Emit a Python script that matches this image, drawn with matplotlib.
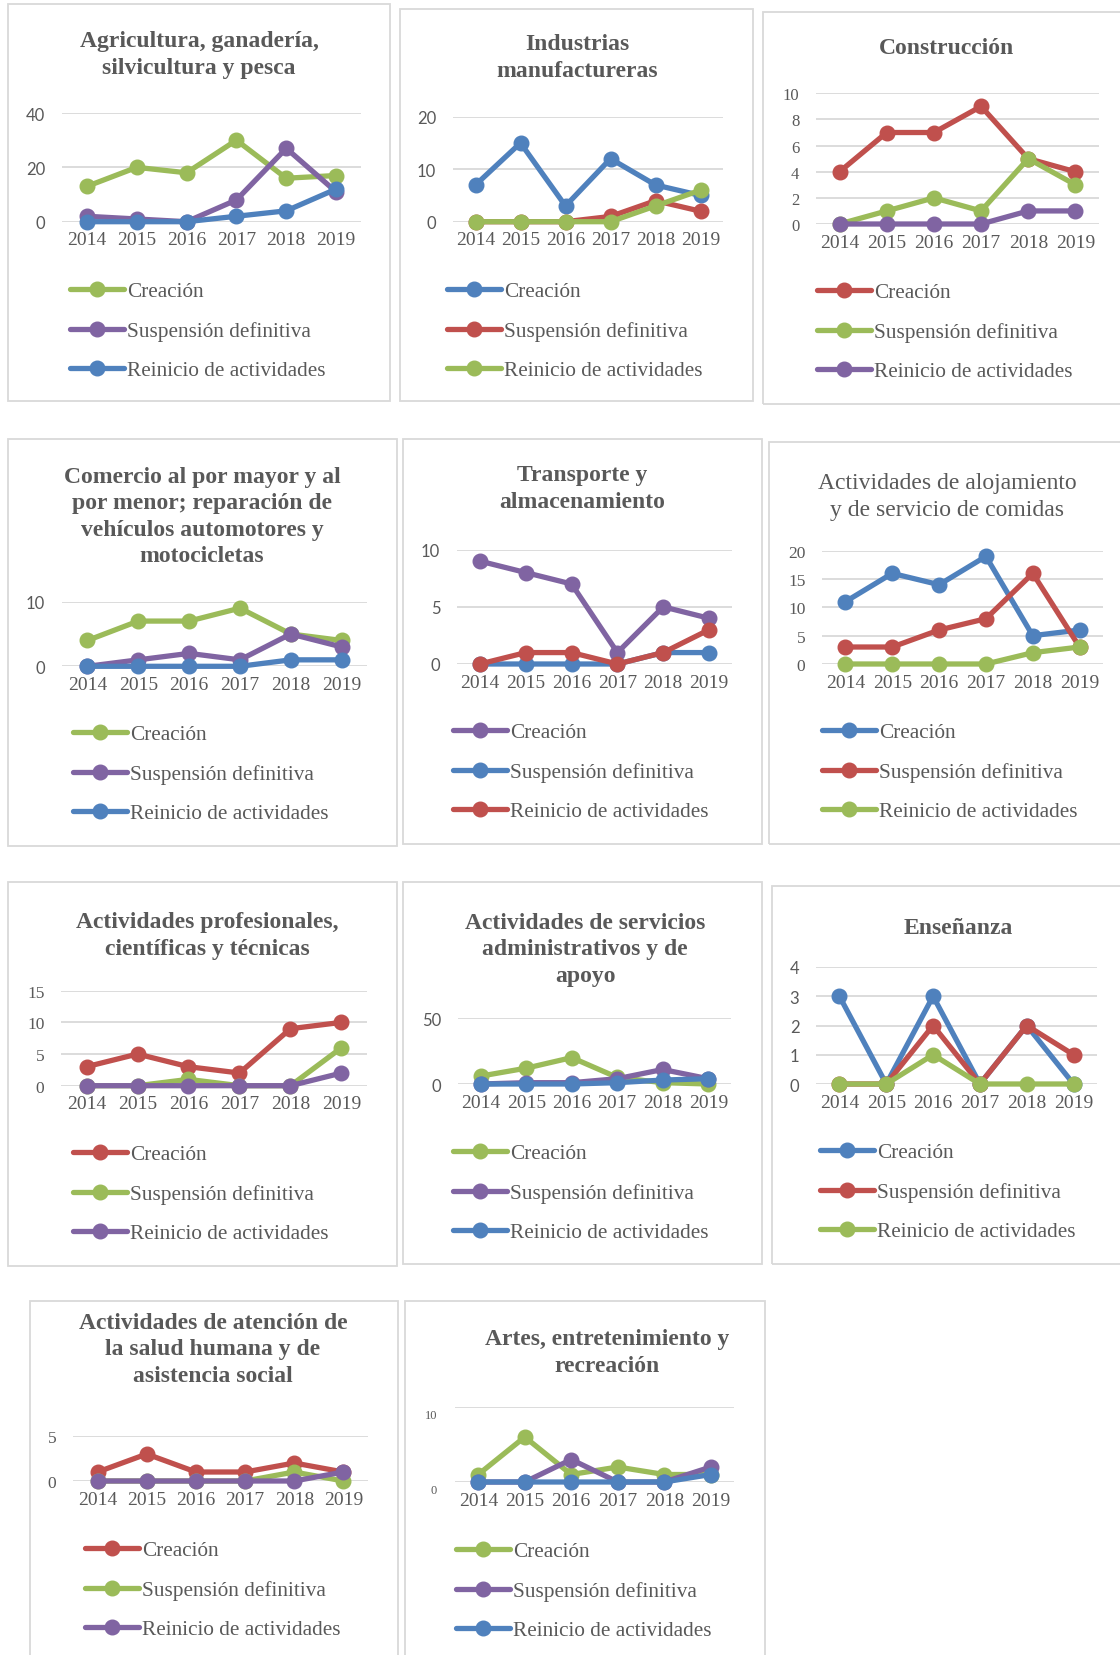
import numpy as np
import matplotlib.pyplot as plt
from matplotlib.patches import Rectangle
from matplotlib.transforms import ScaledTranslation

W, H = 1120, 1656

anios = ['2014', '2015', '2016', '2017', '2018', '2019']
series = ['Creación', 'Suspensión definitiva', 'Reinicio de actividades']

# valores: creacion, suspension definitiva, reinicio
agro_creacion = [13, 20, 18, 30, 16, 17]
agro_suspension = [2, 1, 0, 8, 27, 11]
agro_reinicio = [0, 0, 0, 2, 4, 12]

manuf_creacion = [7, 15, 3, 12, 7, 5]
manuf_suspension = [0, 0, 0, 1, 4, 2]
manuf_reinicio = [0, 0, 0, 0, 3, 6]

constr_creacion = [4, 7, 7, 9, 5, 4]
constr_suspension = [0, 1, 2, 1, 5, 3]
constr_reinicio = [0, 0, 0, 0, 1, 1]

comercio_creacion = [4, 7, 7, 9, 5, 4]
comercio_suspension = [0, 1, 2, 1, 5, 3]
comercio_reinicio = [0, 0, 0, 0, 1, 1]

transp_creacion = [9, 8, 7, 1, 5, 4]
transp_suspension = [0, 0, 0, 0, 1, 1]
transp_reinicio = [0, 1, 1, 0, 1, 3]

aloj_creacion = [11, 16, 14, 19, 5, 6]
aloj_suspension = [3, 3, 6, 8, 16, 3]
aloj_reinicio = [0, 0, 0, 0, 2, 3]

prof_creacion = [3, 5, 3, 2, 9, 10]
prof_suspension = [0, 0, 1, 0, 0, 6]
prof_reinicio = [0, 0, 0, 0, 0, 2]

admin_creacion = [6, 12, 20, 5, 1, 0]
admin_suspension = [0, 1, 1, 4, 11, 4]
admin_reinicio = [0, 0, 0, 1, 3, 4]

ensen_creacion = [3, 0, 3, 0, 2, 0]
ensen_suspension = [0, 0, 2, 0, 2, 1]
ensen_reinicio = [0, 0, 1, 0, 0, 0]

salud_creacion = [1, 3, 1, 1, 2, 1]
salud_suspension = [0, 0, 0, 0, 1, 0]
salud_reinicio = [0, 0, 0, 0, 0, 1]

artes_creacion = [1, 6, 1, 2, 1, 1]
artes_suspension = [0, 0, 3, 0, 0, 2]
artes_reinicio = [0, 0, 0, 0, 0, 1]

azul = '#4F81BD'
rojo = '#C0504D'
verde = '#9BBB59'
morado = '#8064A2'
gris_texto = '#595959'
gris_linea = '#D9D9D9'

serif = 'Liberation Serif'
sans = 'Lato'

def fx(px):
    return px / W

def fy(py):
    return 1 - py / H

fig = plt.figure(figsize=(W / 100, H / 100), dpi=100)

def panel(titulo, datos, colores, yticks, caja, area, tit_xy, ley_xy,
          negrita=True, yfuente=sans, ytam=12, yoff=0):
    x0, y0, x1, y1 = caja
    fig.add_artist(Rectangle((fx(x0), fy(y1)), fx(x1 - x0), (y1 - y0) / H,
                             transform=fig.transFigure, fill=False,
                             edgecolor=gris_linea, lw=1.3))
    ax0, ytop, ax1, ybot = area
    ax = fig.add_axes([fx(ax0), fy(ybot), fx(ax1 - ax0), (ybot - ytop) / H])
    x = np.arange(len(anios))
    for vals, col, nom in zip(datos, colores, series):
        ax.plot(x, vals, color=col, lw=3.8, marker='o', ms=10.5,
                label=nom, clip_on=False, solid_capstyle='round')
    ax.set_xlim(-0.5, len(anios) - 0.5)
    ax.set_ylim(yticks[0], yticks[-1])
    ax.set_yticks(yticks)
    ax.set_xticks(x)
    ax.set_xticklabels(anios, fontfamily=serif, fontsize=14, color=gris_texto)
    if yoff:
        # etiquetas desplazadas hacia abajo como en el original
        ax.set_yticklabels([])
        desp = ScaledTranslation(-18 / 100, -yoff / 100, fig.dpi_scale_trans)
        for t in yticks:
            ax.text(0, t, str(t), transform=ax.get_yaxis_transform() + desp,
                    ha='right', va='center', fontfamily=yfuente, fontsize=ytam,
                    color=gris_texto)
    else:
        ax.set_yticklabels([str(t) for t in yticks], fontfamily=yfuente,
                           fontsize=ytam, color=gris_texto)
    ax.tick_params(axis='both', length=0)
    ax.tick_params(axis='x', pad=7)
    ax.tick_params(axis='y', pad=12)
    ax.grid(axis='y', color=gris_linea, lw=1.3)
    ax.set_axisbelow(True)
    for s in ax.spines.values():
        s.set_visible(False)
    fig.text(fx(tit_xy[0]), fy(tit_xy[1]), titulo, ha='center', va='center',
             fontfamily=serif, fontsize=17,
             fontweight='bold' if negrita else 'normal',
             color=gris_texto, linespacing=1.33)
    ax.legend(loc='center left', bbox_to_anchor=(fx(ley_xy[0]), fy(ley_xy[1])),
              bbox_transform=fig.transFigure, frameon=False, borderpad=0,
              borderaxespad=0, handlelength=2.55, handletextpad=0.12,
              labelspacing=0.92, prop={'family': serif, 'size': 15.3},
              labelcolor=gris_texto)
    return ax

panel('Agricultura, ganadería,\nsilvicultura y pesca',
      [agro_creacion, agro_suspension, agro_reinicio], [verde, morado, azul],
      [0, 20, 40], (8, 5, 390, 402), (62, 114, 361, 222.7), (199, 55), (70, 332))

panel('Industrias\nmanufactureras',
      [manuf_creacion, manuf_suspension, manuf_reinicio], [azul, rojo, verde],
      [0, 10, 20], (400, 10, 753, 402), (453, 117.7, 723, 222.7), (577, 58), (447, 332))

panel('Construcción',
      [constr_creacion, constr_suspension, constr_reinicio], [rojo, verde, morado],
      [0, 2, 4, 6, 8, 10], (763, 13, 1130, 405), (816, 94.3, 1099, 225), (947, 48),
      (817, 333), yfuente=serif, ytam=12)

panel('Comercio al por mayor y al\npor menor; reparación de\nvehículos automotores y\nmotocicletas',
      [comercio_creacion, comercio_suspension, comercio_reinicio], [verde, morado, azul],
      [0, 10], (8, 440, 397, 847), (62, 602.7, 367, 667.3), (202, 517), (73, 775))

panel('Transporte y\nalmacenamiento',
      [transp_creacion, transp_suspension, transp_reinicio], [morado, azul, rojo],
      [0, 5, 10], (403, 440, 762, 845), (457, 550.7, 732, 665), (582, 489), (453, 773))

panel('Actividades de alojamiento\ny de servicio de comidas',
      [aloj_creacion, aloj_suspension, aloj_reinicio], [azul, rojo, verde],
      [0, 5, 10, 15, 20], (769, 443, 1130, 845), (822, 551.7, 1103, 665), (947, 497),
      (822, 773), negrita=False, yfuente=serif, ytam=12.5)

panel('Actividades profesionales,\ncientíficas y técnicas',
      [prof_creacion, prof_suspension, prof_reinicio], [rojo, verde, morado],
      [0, 5, 10, 15], (8, 883, 397, 1267), (61, 991.7, 367, 1086.7), (207, 936),
      (73, 1195), yfuente=serif, ytam=12.5)

panel('Actividades de servicios\nadministrativos y de\napoyo',
      [admin_creacion, admin_suspension, admin_reinicio], [verde, morado, azul],
      [0, 50], (403, 883, 762, 1265), (458, 1019, 731, 1085), (585, 950), (453, 1194))

panel('Enseñanza',
      [ensen_creacion, ensen_suspension, ensen_reinicio], [azul, rojo, verde],
      [0, 1, 2, 3, 4], (772, 887, 1130, 1265), (816, 968, 1097, 1085), (958, 928),
      (820, 1193))

panel('Actividades de atención de\nla salud humana y de\nasistencia social',
      [salud_creacion, salud_suspension, salud_reinicio], [rojo, verde, morado],
      [0, 5], (30, 1302, 398, 1670), (73, 1437, 368, 1482), (213, 1350), (85, 1591),
      yfuente=serif, ytam=12.5)

panel('Artes, entretenimiento y\nrecreación',
      [artes_creacion, artes_suspension, artes_reinicio], [verde, morado, azul],
      [0, 10], (405, 1302, 765, 1670), (455, 1408, 734, 1483), (607, 1353), (456, 1592),
      yfuente=serif, ytam=9, yoff=8)

fig.savefig('out.png', dpi=100, facecolor='white')
